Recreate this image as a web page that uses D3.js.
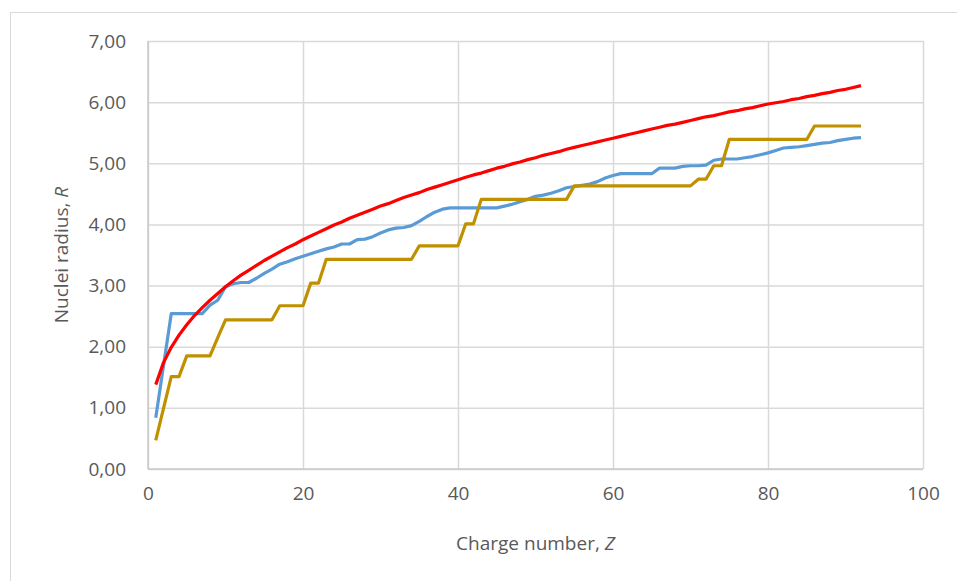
<!DOCTYPE html>
<meta charset="utf-8">
<script src="https://d3js.org/d3.v7.min.js"></script>
<style>
  body { margin: 0; background: #fff; }
  text { font-family: "Open Sans", "Noto Sans", sans-serif; fill: #595959; }
</style>
<svg id="chart" width="957" height="581"></svg>
<script>
  // Charge number Z = 1..92
  var charge = d3.range(1, 93);

  // red curve
  var radiusRed = [1.38,1.74,1.99,2.19,2.36,2.51,2.64,2.76,2.87,2.98,
    3.08,3.17,3.25,3.33,3.41,3.48,3.55,3.62,3.68,3.75,
    3.81,3.87,3.93,3.99,4.04,4.10,4.15,4.20,4.25,4.30,
    4.34,4.39,4.44,4.48,4.52,4.57,4.61,4.65,4.69,4.73,
    4.77,4.81,4.84,4.88,4.92,4.95,4.99,5.02,5.06,5.09,
    5.13,5.16,5.19,5.23,5.26,5.29,5.32,5.35,5.38,5.41,
    5.44,5.47,5.50,5.53,5.56,5.59,5.62,5.64,5.67,5.70,
    5.73,5.76,5.78,5.81,5.84,5.86,5.89,5.91,5.94,5.97,
    5.99,6.01,6.04,6.06,6.09,6.11,6.14,6.16,6.19,6.21,
    6.24,6.27];

  // blue curve
  var radiusBlue = [0.84,1.69,2.54,2.54,2.54,2.54,2.54,2.68,2.76,2.98,
    3.03,3.05,3.05,3.12,3.20,3.27,3.35,3.39,3.44,3.48,
    3.52,3.56,3.60,3.63,3.68,3.68,3.75,3.76,3.80,3.86,
    3.91,3.94,3.95,3.98,4.05,4.13,4.20,4.25,4.27,4.27,
    4.27,4.27,4.27,4.27,4.27,4.30,4.33,4.37,4.41,4.46,
    4.48,4.51,4.55,4.60,4.62,4.64,4.66,4.70,4.76,4.80,
    4.83,4.83,4.83,4.83,4.83,4.92,4.92,4.92,4.95,4.96,
    4.96,4.97,5.05,5.07,5.07,5.07,5.09,5.11,5.14,5.17,
    5.21,5.25,5.26,5.27,5.29,5.31,5.33,5.34,5.37,5.39,
    5.41,5.42];

  // gold step curve
  var radiusGold = [0.47,0.99,1.51,1.51,1.85,1.85,1.85,1.85,2.15,2.44,
    2.44,2.44,2.44,2.44,2.44,2.44,2.67,2.67,2.67,2.67,
    3.04,3.04,3.43,3.43,3.43,3.43,3.43,3.43,3.43,3.43,
    3.43,3.43,3.43,3.43,3.65,3.65,3.65,3.65,3.65,3.65,
    4.01,4.01,4.41,4.41,4.41,4.41,4.41,4.41,4.41,4.41,
    4.41,4.41,4.41,4.41,4.63,4.63,4.63,4.63,4.63,4.63,
    4.63,4.63,4.63,4.63,4.63,4.63,4.63,4.63,4.63,4.63,
    4.74,4.74,4.96,4.96,5.39,5.39,5.39,5.39,5.39,5.39,
    5.39,5.39,5.39,5.39,5.39,5.61,5.61,5.61,5.61,5.61,
    5.61,5.61];

  var xTicks = [0, 20, 40, 60, 80, 100];
  var yTicks = [0, 1, 2, 3, 4, 5, 6, 7];

  var svg = d3.select("#chart");
  var margin = {left: 148, top: 41, right: 34, bottom: 112};
  var width = 957 - margin.left - margin.right,
      height = 581 - margin.top - margin.bottom;

  // chart area border
  svg.append("rect")
    .attr("x", 10.5).attr("y", 12.5)
    .attr("width", 960).attr("height", 580)
    .attr("fill", "none").attr("stroke", "#d9d9d9");

  var g = svg.append("g").attr("transform", "translate(" + margin.left + "," + margin.top + ")");

  var x = d3.scaleLinear().domain([0, 100]).range([0, width]);
  var y = d3.scaleLinear().domain([0, 7]).range([height, 0]);

  // grid
  g.append("g")
    .call(d3.axisLeft(y).tickValues(yTicks).tickSize(-width).tickFormat(""))
    .call(a => a.select(".domain").remove())
    .selectAll("line").attr("stroke", "#d9d9d9").attr("stroke-width", 1.5);
  g.append("g")
    .attr("transform", "translate(0," + height + ")")
    .call(d3.axisBottom(x).tickValues(xTicks).tickSize(-height).tickFormat(""))
    .call(a => a.select(".domain").remove())
    .selectAll("line").attr("stroke", "#d9d9d9").attr("stroke-width", 1.5);

  // axis lines
  g.append("line").attr("x1", 0).attr("x2", 0).attr("y1", 0).attr("y2", height)
    .attr("stroke", "#c8c8c8").attr("stroke-width", 1.5);
  g.append("line").attr("x1", 0).attr("x2", width).attr("y1", height).attr("y2", height)
    .attr("stroke", "#c8c8c8").attr("stroke-width", 1.5);

  // tick labels
  var yAxis = g.append("g")
    .call(d3.axisLeft(y).tickValues(yTicks).tickSize(0).tickPadding(22)
      .tickFormat(d => d3.format(".2f")(d).replace(".", ",")));
  yAxis.select(".domain").remove();
  yAxis.selectAll("text").style("font-size", "19px").attr("fill", "#595959")
    .style("font-family", "'Open Sans', sans-serif");

  var xAxis = g.append("g")
    .attr("transform", "translate(0," + height + ")")
    .call(d3.axisBottom(x).tickValues(xTicks).tickSize(0).tickPadding(18));
  xAxis.select(".domain").remove();
  xAxis.selectAll("text").style("font-size", "19px").attr("fill", "#595959")
    .style("font-family", "'Open Sans', sans-serif");

  // axis titles
  var xt = svg.append("text")
    .attr("x", margin.left + width / 2).attr("y", 550)
    .attr("text-anchor", "middle").style("font-size", "19px");
  xt.append("tspan").text("Charge number, ");
  xt.append("tspan").style("font-style", "italic").text("Z");

  var yt = svg.append("text")
    .attr("transform", "translate(68," + (margin.top + height / 2) + ") rotate(-90)")
    .attr("text-anchor", "middle").style("font-size", "19px");
  yt.append("tspan").text("Nuclei radius, ");
  yt.append("tspan").style("font-style", "italic").text("R");

  // lines
  var line = d3.line().x((d, i) => x(charge[i])).y(d => y(d));
  var series = [
    {values: radiusBlue, color: "#5b9bd5"},
    {values: radiusGold, color: "#bf9000"},
    {values: radiusRed, color: "#ff0000"}
  ];
  g.selectAll(".series")
    .data(series)
    .enter().append("path")
      .attr("class", "series")
      .attr("d", d => line(d.values))
      .attr("fill", "none")
      .attr("stroke", d => d.color)
      .attr("stroke-width", 3.2)
      .attr("stroke-linejoin", "round");
</script>
